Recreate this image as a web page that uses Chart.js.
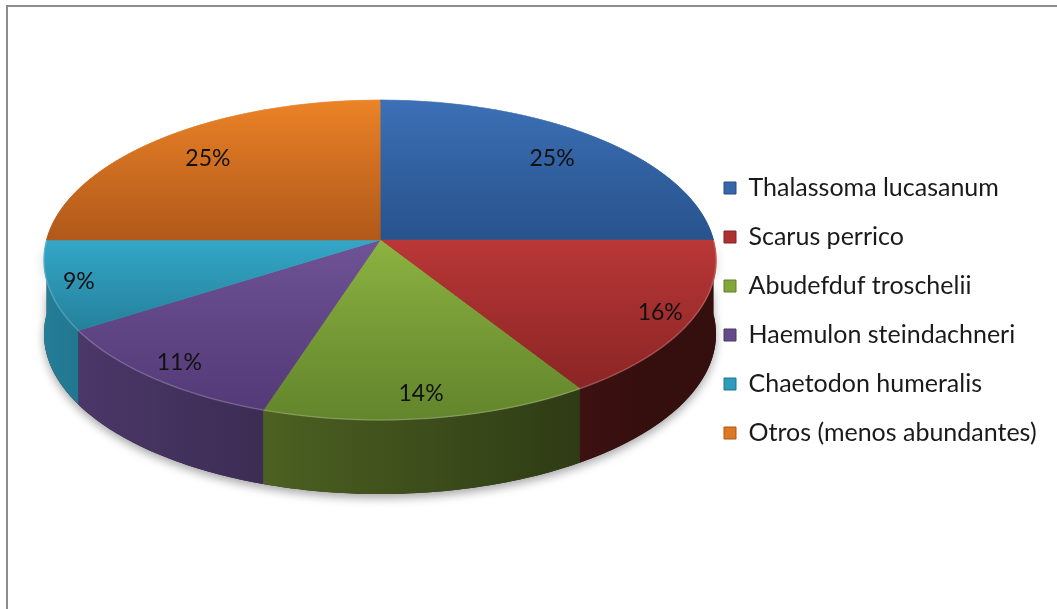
<!DOCTYPE html>
<html lang="es">
<head>
<meta charset="UTF-8">
<title>Especies mas abundantes</title>
<script src="https://cdn.jsdelivr.net/npm/chart.js"></script>
<style>
  html, body { margin: 0; padding: 0; background: #fff; overflow: hidden; }
  /* grey frame of the chart object, only the top and left edges fall inside the window */
  #frame {
    position: absolute; left: 6px; top: 5px; width: 1200px; height: 800px;
    border-left: 2px solid #8c8c8c; border-top: 2px solid #8c8c8c;
  }
  #chart { position: absolute; left: 0; top: 0; }
</style>
</head>
<body>
<div id="frame"></div>
<canvas id="chart" width="1057" height="609"></canvas>
<script>
// species and their share of the sample (%)
const species = ['Thalassoma lucasanum', 'Scarus perrico', 'Abudefduf troschelii',
                 'Haemulon steindachneri', 'Chaetodon humeralis', 'Otros (menos abundantes)'];
const shares = [25, 16, 14, 11, 9, 25];

// colours: top face gradient (light -> dark), legend swatch, side wall base
const faceTop    = ['#3c70b6', '#ba3737', '#8db341', '#6f5396', '#34a7c8', '#ec8327'];
const faceBottom = ['#28538d', '#8b2525', '#63852c', '#543a78', '#24819c', '#b1591a'];
const swatch     = ['#3767ab', '#ad3131', '#82a63a', '#664b8c', '#2e9bbb', '#df7822'];
const wallBase   = ['#3767ab', '#b03030', '#84a83a', '#694d92', '#30a6c9', '#e07a22'];

// 3d view of the flat pie: projected centre, half axes, perspective and thickness
const VIEW = { cx: 380, cy: 240, rx: 333.4, ry: 157.5, persp: -0.125, depth: 74 };
const FONT = 'Lato';
const LABEL_SIZE = 23;
const LEGEND_SIZE = 25;

const total = shares.reduce((a, b) => a + b, 0);

function sliceAngles(i) {
    let before = 0;
    for (let k = 0; k < i; k++) before += shares[k];
    const a0 = -Math.PI / 2 + 2 * Math.PI * before / total;
    return [a0, a0 + 2 * Math.PI * shares[i] / total];
}

// vertical extent of a slice on the unit circle (y down)
function sliceSpan(i) {
    const [a0, a1] = sliceAngles(i);
    let lo = 0, hi = 0;
    [a0, a1].forEach(a => { lo = Math.min(lo, Math.sin(a)); hi = Math.max(hi, Math.sin(a)); });
    if (a0 <= Math.PI / 2 && a1 >= Math.PI / 2) hi = 1;
    return [lo, hi];
}

function faceFill(c) {
    const i = c.dataIndex;
    const area = c.chart.chartArea;
    if (!area || i === undefined) return swatch[i] || '#888';
    const R = (Math.min(area.width, area.height) - 1) / 2;
    const cy = (area.top + area.bottom) / 2;
    const [lo, hi] = sliceSpan(i);
    const g = c.chart.ctx.createLinearGradient(0, cy + lo * R, 0, cy + hi * R);
    g.addColorStop(0, faceTop[i]);
    g.addColorStop(1, faceBottom[i]);
    return g;
}

function shade(hex, f) {
    const n = parseInt(hex.slice(1), 16);
    const r = Math.round(((n >> 16) & 255) * f), g = Math.round(((n >> 8) & 255) * f), b = Math.round((n & 255) * f);
    return `rgb(${r},${g},${b})`;
}

// light comes from the left: walls facing right get darker
function wallLight(phi) {
    return Math.max(0.3, 0.493 - 0.267 * Math.cos(phi));
}

const pie3d = {
    id: 'pie3d',
    beforeDatasetsDraw(chart) {
        const ctx = chart.ctx;
        const arcs = chart.getDatasetMeta(0).data;
        if (!arcs.length) return false;
        const R = arcs[0].outerRadius, ox = arcs[0].x, oy = arcs[0].y;
        const pr = chart.currentDevicePixelRatio || 1;

        const project = (u, v) => {
            const d = 1 + VIEW.persp * v / R;
            return [VIEW.cx + VIEW.rx * u / (R * d), VIEW.cy + VIEW.ry * v / (R * d)];
        };
        const rim = phi => project(R * Math.cos(phi), R * Math.sin(phi));

        const wallPath = (a0, a1) => {
            const n = Math.max(2, Math.ceil((a1 - a0) / 0.02));
            ctx.beginPath();
            for (let k = 0; k <= n; k++) {
                const p = rim(a0 + (a1 - a0) * k / n);
                if (k === 0) ctx.moveTo(p[0], p[1]); else ctx.lineTo(p[0], p[1]);
            }
            for (let k = n; k >= 0; k--) {
                const p = rim(a0 + (a1 - a0) * k / n);
                ctx.lineTo(p[0], p[1] + VIEW.depth);
            }
            ctx.closePath();
        };

        // soft shadow under the whole wall
        ctx.save();
        ctx.shadowColor = 'rgba(0,0,0,0.35)';
        ctx.shadowBlur = 10;
        ctx.shadowOffsetY = 4;
        ctx.fillStyle = '#2a2a2a';
        wallPath(0, Math.PI);
        ctx.fill();
        ctx.restore();

        // wall band of each slice in the front half
        arcs.forEach((arc, i) => {
            const a0 = Math.max(arc.startAngle, 0), a1 = Math.min(arc.endAngle, Math.PI);
            if (a1 <= a0) return;
            const x0 = rim(a0)[0], x1 = rim(a1)[0];
            ctx.save();
            if (Math.abs(x1 - x0) > 0.5) {
                const g = ctx.createLinearGradient(x0, 0, x1, 0);
                const ns = 8;
                for (let k = 0; k <= ns; k++) {
                    const phi = a0 + (a1 - a0) * k / ns;
                    const t = Math.min(1, Math.max(0, (rim(phi)[0] - x0) / (x1 - x0)));
                    g.addColorStop(t, shade(wallBase[i], wallLight(phi)));
                }
                ctx.fillStyle = g;
            } else {
                ctx.fillStyle = shade(wallBase[i], wallLight((a0 + a1) / 2));
            }
            wallPath(a0, a1);
            ctx.fill();
            ctx.restore();
        });

        // top face: the library's arcs, drawn one screen row at a time through the perspective
        const yTop = Math.floor(rim(-Math.PI / 2)[1]) - 2;
        const yBot = Math.ceil(rim(Math.PI / 2)[1]) + 2;
        for (let y = yTop; y < yBot; y++) {
            const dy = y + 0.5 - VIEW.cy;
            const q = dy / (VIEW.ry - VIEW.persp * dy);
            if (Math.abs(q) > 1.03) continue;
            const d = 1 + VIEW.persp * q;
            const sx = VIEW.rx / (R * d);
            const sy = VIEW.ry / (R * d * d);
            ctx.save();
            ctx.beginPath();
            ctx.rect(0, y, chart.width, 1);
            ctx.clip();
            ctx.setTransform(pr * sx, 0, 0, pr * sy, pr * (VIEW.cx - sx * ox), pr * (y + 0.5 - sy * (oy + q * R)));
            arcs.forEach(a => a.draw(ctx));
            ctx.restore();
        }

        // faint highlight along the front rim
        ctx.save();
        ctx.strokeStyle = 'rgba(255,255,255,0.18)';
        ctx.lineWidth = 1.5;
        ctx.beginPath();
        for (let k = 0; k <= 100; k++) {
            const p = rim(Math.PI * k / 100);
            if (k === 0) ctx.moveTo(p[0], p[1]); else ctx.lineTo(p[0], p[1]);
        }
        ctx.stroke();
        ctx.restore();

        // percentage labels
        ctx.save();
        ctx.font = `${LABEL_SIZE}px ${FONT}`;
        ctx.fillStyle = '#111';
        ctx.textAlign = 'center';
        ctx.textBaseline = 'middle';
        arcs.forEach((arc, i) => {
            const m = (arc.startAngle + arc.endAngle) / 2;
            const s = Math.sin(m), c = Math.abs(Math.cos(m));
            const f = 0.677 + 0.19 * s + 0.23 * c - 0.15 * s * c;
            const p = project(f * R * Math.cos(m), f * R * Math.sin(m));
            ctx.fillText(Math.round(shares[i] / total * 100) + '%', p[0], p[1]);
        });
        ctx.restore();
        return false;
    }
};

// legend sits with its swatches at x = 724
const meas = document.createElement('canvas').getContext('2d');
meas.font = `${LEGEND_SIZE}px ${FONT}`;
const textW = Math.max(...species.map(s => meas.measureText(s).width));
const legendPad = 24, boxW = 12;
const padRight = Math.max(0, 1057 - (724 - legendPad) - (legendPad + boxW + LEGEND_SIZE / 2 + textW + 10));

new Chart(document.getElementById('chart'), {
    type: 'pie',
    data: {
        labels: species,
        datasets: [{
            data: shares,
            backgroundColor: faceFill,
            borderColor: faceFill,
            borderWidth: 1,
            hoverOffset: 0
        }]
    },
    options: {
        responsive: false,
        animation: false,
        events: [],
        layout: { padding: { top: 12, right: padRight, bottom: 0, left: 0 } },
        plugins: {
            tooltip: { enabled: false },
            legend: {
                position: 'right',
                labels: {
                    boxWidth: boxW,
                    boxHeight: 12,
                    padding: legendPad,
                    color: '#1a1a1a',
                    font: { family: FONT, size: LEGEND_SIZE },
                    generateLabels(chart) {
                        const items = Chart.overrides.doughnut.plugins.legend.labels.generateLabels(chart);
                        items.forEach((it, i) => {
                            it.fillStyle = swatch[i];
                            it.strokeStyle = shade(swatch[i], 0.75);
                            it.lineWidth = 1;
                        });
                        return items;
                    }
                }
            }
        }
    },
    plugins: [pie3d]
});
</script>
</body>
</html>
